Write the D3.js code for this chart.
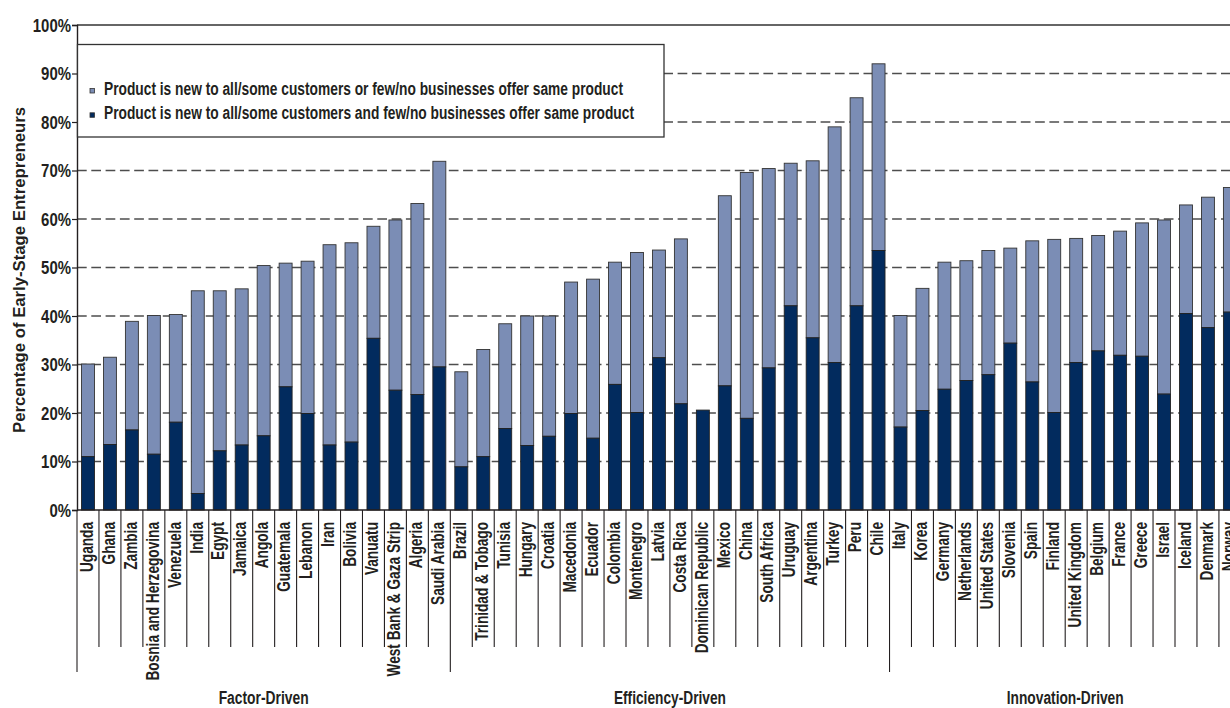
<!DOCTYPE html>
<html>
<head>
<meta charset="utf-8">
<script src="https://cdn.jsdelivr.net/npm/d3@7"></script>
<style>
  html, body { margin: 0; padding: 0; background: #fff; overflow: hidden; }
  svg { display: block; }
  text { font-family: "Liberation Sans", Arial, sans-serif; font-weight: bold; fill: #231f20; }
</style>
</head>
<body>
<svg id="chart" width="1230" height="708"></svg>
<script>
// ---- data ----
const factorCountries = ["Uganda","Ghana","Zambia","Bosnia and Herzegovina","Venezuela","India","Egypt","Jamaica","Angola","Guatemala","Lebanon","Iran","Bolivia","Vanuatu","West Bank & Gaza Strip","Algeria","Saudi Arabia"];
const factorTotal = [30.1,31.5,38.9,40.1,40.3,45.2,45.2,45.6,50.4,50.9,51.3,54.7,55.1,58.5,59.8,63.2,71.9];
const factorNew   = [11.0,13.5,16.5,11.5,18.1,3.4,12.2,13.4,15.3,25.4,19.9,13.4,14.0,35.4,24.7,23.8,29.5];

const efficiencyCountries = ["Brazil","Trinidad & Tobago","Tunisia","Hungary","Croatia","Macedonia","Ecuador","Colombia","Montenegro","Latvia","Costa Rica","Dominican Republic","Mexico","China","South Africa","Uruguay","Argentina","Turkey","Peru","Chile"];
const efficiencyTotal = [28.5,33.1,38.4,40.0,40.0,47.0,47.6,51.1,53.1,53.6,55.9,20.6,64.8,69.6,70.4,71.5,72.0,79.0,85.0,92.0];
const efficiencyNew   = [8.9,11.0,16.8,13.3,15.2,19.9,14.8,25.9,20.1,31.4,21.9,20.6,25.6,18.9,29.3,42.1,35.5,30.4,42.1,53.5];

const innovationCountries = ["Italy","Korea","Germany","Netherlands","United States","Slovenia","Spain","Finland","United Kingdom","Belgium","France","Greece","Israel","Iceland","Denmark","Norway"];
const innovationTotal = [40.1,45.7,51.1,51.4,53.5,54.0,55.5,55.8,56.0,56.6,57.5,59.2,59.8,62.9,64.5,66.5];
const innovationNew   = [17.1,20.5,24.9,26.7,27.9,34.4,26.4,20.1,30.4,32.8,31.9,31.7,23.9,40.5,37.6,40.8];

const groupNames = ["Factor-Driven","Efficiency-Driven","Innovation-Driven"];
const yTicks = [0,10,20,30,40,50,60,70,80,90,100];
const legendLabels = [
  "Product is new to all/some customers or few/no businesses offer same product",
  "Product is new to all/some customers and few/no businesses offer same product"
];

// ---- build rows ----
const groups = [
  {name: groupNames[0], c: factorCountries, t: factorTotal, n: factorNew},
  {name: groupNames[1], c: efficiencyCountries, t: efficiencyTotal, n: efficiencyNew},
  {name: groupNames[2], c: innovationCountries, t: innovationTotal, n: innovationNew}
];
const rows = [];
groups.forEach((g, gi) => g.c.forEach((c, i) => rows.push({country: c, total: g.t[i], isNew: g.n[i], group: gi})));

// ---- layout ----
const plotLeft = 77, plotTop = 25, plotBottom = 510;
const slotStep = 21.96;
const plotRight = plotLeft + slotStep * rows.length;
const svg = d3.select("#chart");

const x = d3.scaleBand().domain(rows.map(d => d.country)).range([plotLeft, plotRight]).paddingInner(0.41).paddingOuter(0.205);
const y = d3.scaleLinear().domain([0, 100]).range([plotBottom, plotTop]);

const LIGHT = "#7b8db5", DARK = "#022b5e";

function condense(sel, f) {
  sel.each(function() {
    const L = this.getComputedTextLength();
    this.setAttribute("textLength", L * f);
    this.setAttribute("lengthAdjust", "spacingAndGlyphs");
  });
}

// gridlines
svg.append("g").selectAll("line").data(yTicks.filter(v => v > 0 && v < 100)).join("line")
  .attr("x1", plotLeft).attr("x2", plotRight + 20)
  .attr("y1", d => y(d)).attr("y2", d => y(d))
  .attr("stroke", "#4d4d4d").attr("stroke-width", 1.4).attr("stroke-dasharray", "9.7,4.6");
svg.append("line").attr("x1", plotLeft).attr("x2", plotRight + 20).attr("y1", y(100)).attr("y2", y(100))
  .attr("stroke", "#333").attr("stroke-width", 1.4);

// bars
const bars = svg.append("g");
bars.selectAll("rect.light").data(rows.filter(d => d.total > d.isNew)).join("rect")
  .attr("class", "light")
  .attr("x", d => x(d.country)).attr("width", x.bandwidth())
  .attr("y", d => y(d.total)).attr("height", d => y(d.isNew) - y(d.total))
  .attr("fill", LIGHT).attr("stroke", "#333").attr("stroke-width", 0.9);
bars.selectAll("rect.dark").data(rows).join("rect")
  .attr("class", "dark")
  .attr("x", d => x(d.country)).attr("width", x.bandwidth())
  .attr("y", d => y(d.isNew)).attr("height", d => y(0) - y(d.isNew))
  .attr("fill", DARK).attr("stroke", "#222").attr("stroke-width", 0.9);

// y axis
const yAxis = svg.append("g").attr("transform", `translate(${plotLeft},0)`)
  .call(d3.axisLeft(y).tickValues(yTicks).tickFormat(d => d + "%").tickSize(5).tickPadding(1));
yAxis.attr("font-family", null).attr("font-size", null);
yAxis.select(".domain").attr("stroke", "#231f20").attr("stroke-width", 1.4);
yAxis.selectAll(".tick line").attr("stroke", "#231f20").attr("stroke-width", 1.2);
yAxis.selectAll(".tick text").attr("font-size", 18).attr("fill", "#231f20").attr("dy", "0.35em").call(condense, 0.83);

// x baseline
svg.append("line").attr("x1", plotLeft).attr("x2", plotRight + 20).attr("y1", plotBottom).attr("y2", plotBottom)
  .attr("stroke", "#231f20").attr("stroke-width", 1.4);

// category separators
const groupStart = new Set();
let acc = 0; groups.forEach(g => { groupStart.add(acc); acc += g.c.length; }); groupStart.add(acc);
const bounds = d3.range(rows.length + 1);
svg.append("g").selectAll("line").data(bounds).join("line")
  .attr("x1", i => plotLeft + i * x.step()).attr("x2", i => plotLeft + i * x.step())
  .attr("y1", plotBottom).attr("y2", i => groupStart.has(i) ? 672 : 647)
  .attr("stroke", "#231f20").attr("stroke-width", 1.1);

// country labels
svg.append("g").selectAll("text").data(rows).join("text")
  .attr("transform", d => `translate(${x(d.country) + x.bandwidth() / 2},522) rotate(-90)`)
  .attr("text-anchor", "end").attr("dy", "0.27em").attr("font-size", 17.5)
  .text(d => d.country).call(condense, 0.78);

// group labels
const groupLabelW = [90, 112, 117];
let gStart = 0;
groups.forEach((g, gi) => {
  const cx = plotLeft + (gStart + g.c.length / 2) * x.step();
  svg.append("text").attr("x", cx).attr("y", 704).attr("text-anchor", "middle").attr("font-size", 18)
    .attr("textLength", groupLabelW[gi]).attr("lengthAdjust", "spacingAndGlyphs")
    .text(g.name);
  gStart += g.c.length;
});

// y axis title
svg.append("text").attr("transform", "translate(25,270) rotate(-90)").attr("text-anchor", "middle")
  .attr("font-size", 16).attr("textLength", 326).attr("lengthAdjust", "spacingAndGlyphs")
  .text("Percentage of Early-Stage Entrepreneurs");

// legend
const lg = svg.append("g");
lg.append("rect").attr("x", 77.5).attr("y", 44.5).attr("width", 586.5).attr("height", 92.5)
  .attr("fill", "#fff").attr("stroke", "#333").attr("stroke-width", 1.3);
const legendFills = [LIGHT, DARK];
const legendY = [95, 119.3];
const legendW = [519, 530];
legendLabels.forEach((t, i) => {
  lg.append("rect").attr("x", 90).attr("y", legendY[i] - 6.5).attr("width", 4.5).attr("height", 4.5)
    .attr("fill", legendFills[i]).attr("stroke", "#333").attr("stroke-width", 0.8);
  lg.append("text").attr("x", 104).attr("y", legendY[i]).attr("font-size", 17.5)
    .attr("textLength", legendW[i]).attr("lengthAdjust", "spacingAndGlyphs").text(t);
});
</script>
</body>
</html>
